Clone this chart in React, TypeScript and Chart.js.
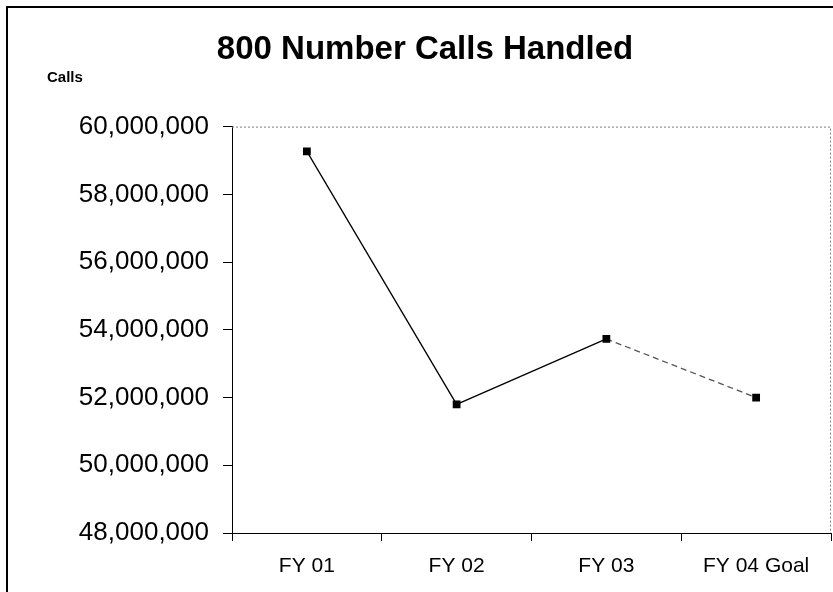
import React, { useEffect, useRef } from "react";
import { Chart, registerables } from "chart.js";

Chart.register(...registerables);

const chartTitle = "800 Number Calls Handled";
const axisLabel = "Calls";
const categories = ["FY 01", "FY 02", "FY 03", "FY 04 Goal"];
const callsHandled = [59270000, 51800000, 53730000, 52000000];
const yMin = 48000000;
const yMax = 60000000;
const yStep = 2000000;

const FONT = "Arial, 'Liberation Sans', Helvetica, sans-serif";

const extrasPlugin = {
  id: "extras",
  afterDraw(chart: any) {
    const { ctx, chartArea } = chart;
    const { left, top, right, bottom } = chartArea;
    ctx.save();
    // dotted plot-area border (top and right)
    ctx.strokeStyle = "#808080";
    ctx.lineWidth = 1;
    ctx.setLineDash([2, 2]);
    ctx.beginPath();
    ctx.moveTo(left, top + 0.5);
    ctx.lineTo(right - 0.5, top + 0.5);
    ctx.lineTo(right - 0.5, bottom);
    ctx.stroke();
    ctx.setLineDash([]);
    // axis unit label
    ctx.fillStyle = "#000";
    ctx.font = `bold 15px ${FONT}`;
    ctx.textAlign = "left";
    ctx.textBaseline = "middle";
    ctx.fillText(axisLabel, 47, 78);
    ctx.restore();
  },
};

export default function App() {
  const canvasRef = useRef<HTMLCanvasElement | null>(null);

  useEffect(() => {
    if (!canvasRef.current) return;
    const chart = new Chart(canvasRef.current, {
      type: "line",
      data: {
        labels: categories,
        datasets: [
          {
            label: "Calls",
            data: callsHandled,
            borderColor: "#000",
            borderWidth: 1.3,
            pointStyle: "rect",
            pointRadius: 5.5,
            pointBackgroundColor: "#000",
            pointBorderColor: "#000",
            pointBorderWidth: 0,
            tension: 0,
            segment: {
              borderDash: (c: any) => (c.p0DataIndex === 2 ? [6, 4] : undefined),
              borderColor: (c: any) => (c.p0DataIndex === 2 ? "#555" : undefined),
            },
          },
        ],
      },
      options: {
        animation: false,
        responsive: false,
        maintainAspectRatio: false,
        layout: { padding: { left: 19, right: 19, top: 0, bottom: 14 } },
        plugins: {
          legend: { display: false },
          tooltip: { enabled: false },
          title: {
            display: true,
            text: chartTitle,
            color: "#000",
            font: { family: FONT, size: 33, weight: "bold", lineHeight: 1.2 },
            padding: { top: 30, bottom: 57 },
          },
        },
        scales: {
          x: {
            type: "category",
            offset: true,
            afterFit: (s: any) => {
              s.height = 45;
            },
            grid: {
              offset: true,
              drawOnChartArea: false,
              drawTicks: true,
              tickLength: 8,
              color: "#000",
            },
            border: { display: true, color: "#000", width: 1 },
            ticks: {
              color: "#000",
              padding: 13,
              font: { family: FONT, size: 21 },
              maxRotation: 0,
              autoSkip: false,
            },
          },
          y: {
            min: yMin,
            max: yMax,
            afterFit: (s: any) => {
              s.width = 213;
            },
            grid: {
              drawOnChartArea: false,
              drawTicks: true,
              tickLength: 9,
              color: "#000",
            },
            border: { display: true, color: "#000", width: 1 },
            ticks: {
              stepSize: yStep,
              color: "#000",
              padding: 14,
              font: { family: FONT, size: 26 },
              callback: (v: any) => Number(v).toLocaleString("en-US"),
            },
          },
        },
      },
      plugins: [extrasPlugin],
    });
    return () => chart.destroy();
  }, []);

  return (
    <div
      style={{
        position: "fixed",
        left: 0,
        top: 0,
        width: 833,
        height: 592,
        overflow: "hidden",
        background: "#fff",
      }}
    >
      <canvas
        ref={canvasRef}
        width={850}
        height={592}
        style={{ position: "absolute", left: 0, top: 0, width: 850, height: 592 }}
      />
      <div
        style={{
          position: "absolute",
          left: 6,
          top: 6,
          width: 900,
          height: 700,
          borderLeft: "2px solid #000",
          borderTop: "2px solid #000",
          pointerEvents: "none",
        }}
      />
    </div>
  );
}
